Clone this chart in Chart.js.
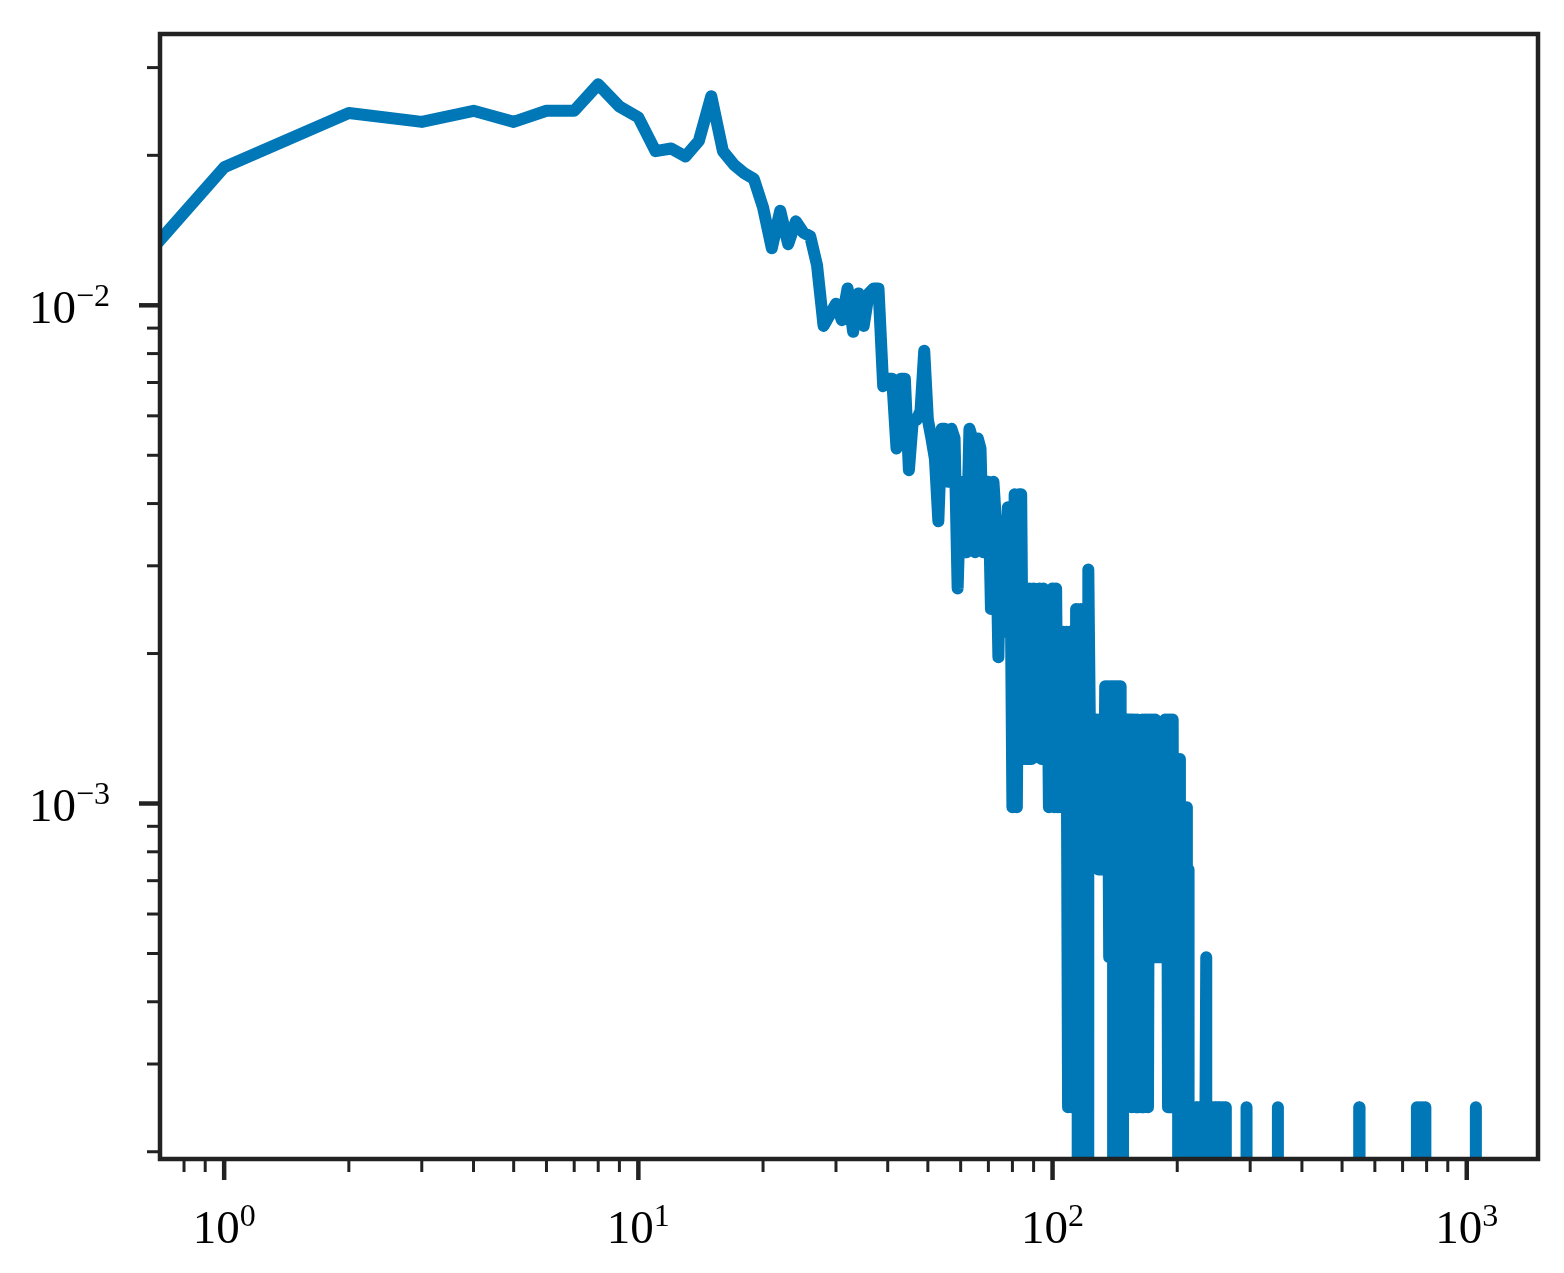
<!DOCTYPE html>
<html>
<head>
<meta charset="utf-8">
<title>Degree distribution</title>
<script src="https://cdn.jsdelivr.net/npm/chart.js@4"></script>
<style>
  html, body { margin: 0; padding: 0; background: #fff; }
  canvas { display: block; }
</style>
</head>
<body>
<canvas id="grafico" width="1564" height="1273"></canvas>
<script>
// nodes counted, used to turn counts into fractions
const totalNodes = 4070;

// how many nodes have each degree, index = degree (0..262)
const counts = [
  0, 77, 99, 95, 100, 95, 100, 100, 113, 102,      // 0-9
  97, 83, 84, 81, 87, 107, 83, 78, 75, 73,         // 10-19
  64, 53, 63, 54, 60, 57, 56, 49, 37, 39,          // 20-29
  41, 38, 44, 36, 43, 37, 43, 44, 44, 28,          // 30-39
  29, 29, 21, 29, 29, 19, 24, 24, 25, 33,          // 40-49
  24, 22, 20, 15, 23, 23, 18, 23, 22, 11,          // 50-59
  18, 17, 13, 23, 22, 13, 22, 21, 13, 18,          // 60-69
  18, 10, 18, 15, 8, 15, 15, 9, 16, 16,            // 70-79
  4, 17, 4, 17, 17, 5, 11, 5, 11, 5,               // 80-89
  11, 7, 7, 11, 5, 11, 5, 10, 4, 10,               // 90-99
  11, 4, 11, 4, 9, 4, 9, 7, 9, 1,                  // 100-109
  9, 1, 9, 1, 10, 1, 0, 10, 0, 10,                 // 110-119
  0, 0, 12, 6, 6, 4, 6, 4, 6, 3,                   // 120-129
  6, 3, 6, 3, 7, 3, 7, 2, 7, 2,                    // 130-139
  7, 0, 7, 0, 7, 0, 7, 0, 6, 1,                    // 140-149
  6, 1, 6, 2, 6, 1, 6, 2, 6, 1,                    // 150-159
  6, 1, 5, 5, 1, 6, 1, 6, 2, 6,                    // 160-169
  1, 6, 2, 6, 2, 6, 2, 6, 2, 5,                    // 170-179
  2, 5, 2, 5, 2, 5, 2, 6, 2, 6,                    // 180-189
  1, 6, 1, 6, 1, 6, 1, 5, 1, 5,                    // 190-199
  1, 5, 0, 5, 0, 4, 0, 4, 0, 4,                    // 200-209
  0, 4, 0, 3, 0, 1, 0, 1, 1, 0,                    // 210-219
  1, 0, 1, 0, 1, 0, 1, 0, 1, 0,                    // 220-229
  1, 0, 1, 0, 1, 2, 0, 1, 0, 1,                    // 230-239
  0, 1, 0, 1, 0, 1, 0, 1, 0, 1,                    // 240-249
  0, 1, 0, 1, 0, 1, 0, 1, 0, 1,                    // 250-259
  0, 1, 0                                          // 260-262
];

// the few high degrees further out, with their empty neighbours
const tailDegrees = [293, 294, 295, 349, 350, 351, 549, 550, 551,
                     757, 758, 759, 769, 770, 771, 781, 782, 783, 793, 794, 795,
                     1051, 1052, 1053];
const tailCounts = [0, 1, 0, 0, 1, 0, 0, 1, 0,
                    0, 1, 0, 0, 1, 0, 0, 1, 0, 0, 1, 0,
                    0, 1, 0];

// tick values and their labels, as base and exponent
const xTicks = [1, 10, 100, 1000];
const xTickExponents = ['0', '1', '2', '3'];
const yTicks = [1e-3, 1e-2];
const yTickExponents = ['\u22123', '\u22122'];

const xRange = [0.71, 1486];
const yRange = [1.934e-4, 0.03504];

// a log axis has no place for 0: push such values far off the axis, as matplotlib does
const logFloor = 1e-30;

const points = [];
counts.forEach((c, k) => {
  points.push({ x: k > 0 ? k : logFloor, y: c > 0 ? c / totalNodes : logFloor });
});
tailDegrees.forEach((d, i) => {
  points.push({ x: d, y: tailCounts[i] > 0 ? tailCounts[i] / totalNodes : logFloor });
});

function minorTicks(lo, hi) {
  const out = [];
  for (let e = Math.floor(Math.log10(lo)); e <= Math.ceil(Math.log10(hi)); e++) {
    for (let m = 2; m <= 9; m++) {
      const v = m * Math.pow(10, e);
      if (v >= lo && v <= hi) out.push(v);
    }
  }
  return out;
}

const serif = "'Liberation Serif', 'Times New Roman', serif";
const baseFont = '47px ' + serif;
const supFont = '32px ' + serif;
const supRaise = 17;

// "10" with a raised exponent; anchor 'center' or 'right'
function powerLabel(ctx, exp, x, baseline, anchor) {
  ctx.font = baseFont;
  const wBase = ctx.measureText('10').width;
  ctx.font = supFont;
  const wSup = ctx.measureText(exp).width;
  const total = wBase + wSup;
  const left = anchor === 'center' ? x - total / 2 : x - total;
  ctx.textAlign = 'left';
  ctx.textBaseline = 'alphabetic';
  ctx.font = baseFont;
  ctx.fillText('10', left, baseline);
  ctx.font = supFont;
  ctx.fillText(exp, left + wBase, baseline - supRaise);
}

// box round the plot, outward tick marks and the tick labels
const frame = {
  id: 'frame',
  afterDatasetsDraw(chart) {
    const { ctx, chartArea: a, scales } = chart;
    const ink = '#222222';
    ctx.save();
    ctx.strokeStyle = ink;
    ctx.lineCap = 'butt';
    const seg = (x1, y1, x2, y2, w) => {
      ctx.lineWidth = w;
      ctx.beginPath();
      ctx.moveTo(x1, y1);
      ctx.lineTo(x2, y2);
      ctx.stroke();
    };
    minorTicks(xRange[0], xRange[1]).forEach(v => {
      const px = scales.x.getPixelForValue(v);
      seg(px, a.bottom, px, a.bottom + 13, 3);
    });
    xTicks.forEach(v => {
      const px = scales.x.getPixelForValue(v);
      seg(px, a.bottom, px, a.bottom + 21, 4.5);
    });
    minorTicks(yRange[0], yRange[1]).forEach(v => {
      const py = scales.y.getPixelForValue(v);
      seg(a.left, py, a.left - 13, py, 3);
    });
    yTicks.forEach(v => {
      const py = scales.y.getPixelForValue(v);
      seg(a.left, py, a.left - 21, py, 4.5);
    });
    ctx.lineWidth = 4.5;
    ctx.strokeRect(a.left, a.top, a.right - a.left, a.bottom - a.top);

    ctx.fillStyle = '#000';
    xTicks.forEach((v, i) => {
      powerLabel(ctx, xTickExponents[i], scales.x.getPixelForValue(v), a.bottom + 84, 'center');
    });
    yTicks.forEach((v, i) => {
      powerLabel(ctx, yTickExponents[i], a.left - 50, scales.y.getPixelForValue(v) + 17.5, 'right');
    });
    ctx.restore();
  }
};

const ctx = document.getElementById('grafico').getContext('2d');
const grafico = new Chart(ctx, {
  type: 'line',
  data: {
    datasets: [{
      data: points,
      borderColor: '#0077b7',
      borderWidth: 12,
      borderJoinStyle: 'round',
      borderCapStyle: 'butt',
      pointRadius: 0,
      tension: 0,
      fill: false,
      clip: 0
    }]
  },
  options: {
    responsive: false,
    animation: false,
    devicePixelRatio: 1,
    layout: { padding: { top: 34, right: 26, left: 0, bottom: 0 } },
    plugins: {
      legend: { display: false },
      tooltip: { enabled: false }
    },
    scales: {
      x: {
        type: 'logarithmic',
        min: xRange[0],
        max: xRange[1],
        grid: { display: false, drawTicks: false },
        border: { display: false },
        ticks: { display: false },
        afterBuildTicks: scale => { scale.ticks = xTicks.map(v => ({ value: v })); },
        afterFit: scale => {
          scale.height = 114;
          scale.paddingLeft = 0;
          scale.paddingRight = 0;
        }
      },
      y: {
        type: 'logarithmic',
        min: yRange[0],
        max: yRange[1],
        grid: { display: false, drawTicks: false },
        border: { display: false },
        ticks: { display: false },
        afterBuildTicks: scale => { scale.ticks = yTicks.map(v => ({ value: v })); },
        afterFit: scale => {
          scale.width = 160;
          scale.paddingTop = 0;
          scale.paddingBottom = 0;
        }
      }
    }
  },
  plugins: [frame]
});
</script>
</body>
</html>
